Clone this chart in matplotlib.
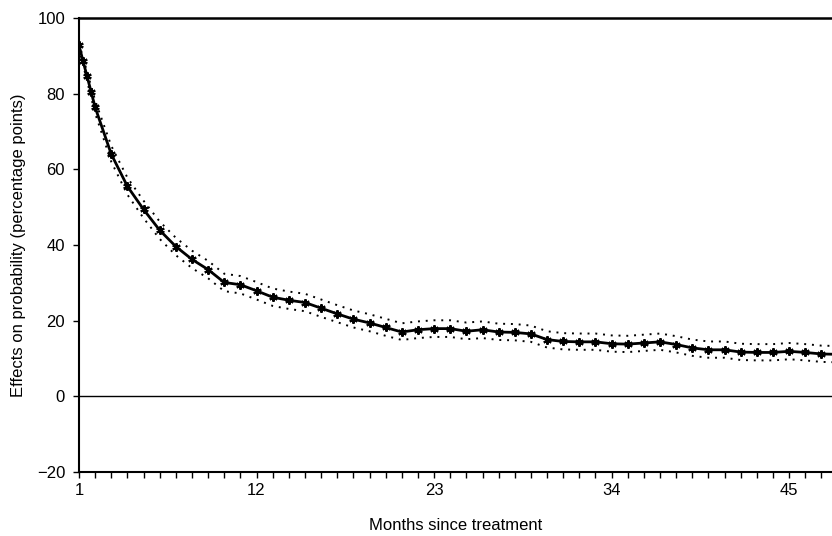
import numpy as np
import matplotlib.pyplot as plt
from matplotlib.ticker import MultipleLocator

# months since treatment (first month split in weeks)
months = [1, 1.25, 1.5, 1.75, 2, 3, 4, 5, 6, 7, 8, 9, 10, 11, 12, 13, 14, 15,
          16, 17, 18, 19, 20, 21, 22, 23, 24, 25, 26, 27, 28, 29, 30, 31, 32,
          33, 34, 35, 36, 37, 38, 39, 40, 41, 42, 43, 44, 45, 46, 47, 48]

effect = [92.8, 88.6, 84.6, 80.5, 76.4, 64.0, 55.5, 49.4, 43.9, 39.6, 36.2,
          33.5, 30.1, 29.5, 27.9, 26.2, 25.4, 24.8, 23.3, 21.8, 20.4, 19.4,
          18.2, 17.0, 17.6, 17.9, 17.9, 17.2, 17.6, 17.0, 16.9, 16.5, 15.0,
          14.5, 14.4, 14.4, 13.9, 13.8, 14.1, 14.4, 13.7, 12.8, 12.3, 12.3,
          11.7, 11.6, 11.6, 11.9, 11.6, 11.2, 11.1]

lower = [92.0, 87.6, 83.4, 79.0, 74.8, 62.0, 53.3, 47.1, 41.6, 37.3, 33.9,
         31.2, 27.8, 27.2, 25.6, 23.9, 23.1, 22.5, 21.0, 19.6, 18.2, 17.2,
         16.0, 14.9, 15.4, 15.7, 15.7, 15.1, 15.4, 14.9, 14.8, 14.4, 12.9,
         12.4, 12.3, 12.3, 11.8, 11.7, 12.0, 12.3, 11.6, 10.7, 10.2, 10.2,
         9.6, 9.5, 9.5, 9.8, 9.5, 9.1, 9.0]

upper = [93.3, 89.6, 85.8, 82.0, 78.2, 66.2, 57.8, 51.7, 46.2, 41.9, 38.5,
         35.8, 32.4, 31.8, 30.2, 28.5, 27.7, 27.1, 25.6, 24.1, 22.7, 21.7,
         20.5, 19.3, 19.8, 20.1, 20.1, 19.5, 19.8, 19.2, 19.1, 18.7, 17.2,
         16.7, 16.6, 16.6, 16.1, 16.0, 16.3, 16.6, 15.9, 15.0, 14.5, 14.5,
         13.9, 13.8, 13.8, 14.1, 13.8, 13.4, 13.3]

x_labels = [1, 12, 23, 34, 45]
y_ticks = [-20, 0, 20, 40, 60, 80, 100]

plt.rcParams['font.family'] = ['Liberation Sans', 'DejaVu Sans']
plt.rcParams['font.size'] = 12

fig = plt.figure(figsize=(8.32, 5.36), dpi=100)
ax = fig.add_axes([79 / 832, 64 / 536, 1 - 79 / 832, 454 / 536])

ax.plot(months, upper, color='black', linestyle=(0, (1, 3)), linewidth=1.4)
ax.plot(months, lower, color='black', linestyle=(0, (1, 3)), linewidth=1.4)
ax.plot(months, effect, color='black', linewidth=2,
        marker=(6, 2, 0), markersize=6, markeredgewidth=1.5)
ax.axhline(0, color='black', linewidth=1)

ax.set_xlim(1, 1 + (832 - 79) / 16.14)
ax.set_ylim(-20, 100)
ax.set_xticks(x_labels)
ax.xaxis.set_minor_locator(MultipleLocator(1))
ax.set_yticks(y_ticks)
ax.tick_params(axis='x', which='both', direction='out', length=4, width=1, pad=4)
ax.tick_params(axis='y', direction='out', length=4, width=1, pad=6)

ax.spines['right'].set_visible(False)
ax.spines['top'].set_linewidth(1.8)
ax.spines['left'].set_linewidth(1.5)
ax.spines['bottom'].set_linewidth(1.5)

ax.set_xlabel('Months since treatment', labelpad=14)
ax.set_ylabel('Effects on probability (percentage points)', labelpad=8)

fig.savefig('out.png', dpi=100)
